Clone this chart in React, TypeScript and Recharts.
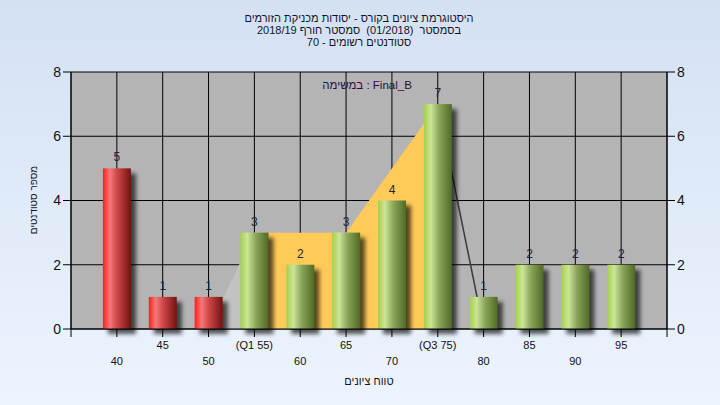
import React from 'react';
import { ComposedChart, Bar, Area, XAxis, YAxis, CartesianGrid, LabelList } from 'recharts';

// ---- data ----
const scores = [40, 45, 50, 55, 60, 65, 70, 75, 80, 85, 90, 95];
const counts = [5, 1, 1, 3, 2, 3, 4, 7, 1, 2, 2, 2];
const tickLabels = ['40', '45', '50', '(Q1 55)', '60', '65', '70', '(Q3 75)', '80', '85', '90', '95'];
const barGroups = ['below', 'below', 'below', 'pass', 'pass', 'pass', 'pass', 'pass', 'pass', 'pass', 'pass', 'pass'];
const lowerTailArea: (number | null)[] = [null, null, 0, 3, null, null, null, null, null, null, null, null];
const interQuartileArea: (number | null)[] = [null, null, null, 3, null, 3, null, 7, null, null, null, null];
const upperTailLine: (number | null)[] = [null, null, null, null, null, null, null, 7, 0, null, null, null];
const xTicks = [35, 40, 45, 50, 55, 60, 65, 70, 75, 80, 85, 90, 95, 100];
const yTicks = [0, 2, 4, 6, 8];

const titleLines = [
  'היסטוגרמת ציונים בקורס - יסודות מכניקת הזורמים',
  'בסמסטר  (01/2018)  סמסטר חורף 2018/19',
  'סטודנטים רשומים - 70',
];
const legendText = 'במשימה : Final_B';
const xAxisTitle = 'טווח ציונים';
const yAxisTitle = 'מספר סטודנטים';

const data = scores.map((s, i) => ({
  score: s,
  count: counts[i],
  group: barGroups[i],
  lowerTail: lowerTailArea[i],
  iqr: interQuartileArea[i],
  upperTail: upperTailLine[i],
}));

const CylBar = (props: any) => {
  const { x, y, width, height, payload } = props;
  if (!height || height <= 0) return null;
  const grad = payload.group === 'below' ? 'url(#gradRed)' : 'url(#gradGreen)';
  return (
    <g>
      <rect x={x + 5} y={y + 5} width={width} height={height} fill="#000" opacity={0.65} filter="url(#barShadow)" />
      <rect x={x} y={y} width={width} height={height} fill={grad} />
    </g>
  );
};

const XTick = (props: any) => {
  const { x, y, payload } = props;
  const i = scores.indexOf(payload.value);
  if (i < 0) return null;
  const upper = i % 2 === 1;
  return (
    <text x={x} y={y + (upper ? 10 : 26)} textAnchor="middle" fontSize={11} fill="#111">
      {tickLabels[i]}
    </text>
  );
};

export default function App() {
  return (
    <div
      style={{
        position: 'absolute',
        left: 0,
        top: 0,
        width: 720,
        height: 405,
        overflow: 'hidden',
        background: 'linear-gradient(to bottom, #d4e1f3, #ecf4fe)',
        fontFamily: '"Liberation Sans", Arial, sans-serif',
      }}
    >
      <ComposedChart width={720} height={405} data={data} margin={{ top: 72, right: 0, bottom: 0, left: 0 }}>
        <defs>
          <linearGradient id="gradRed" x1="0" y1="0" x2="1" y2="0">
            <stop offset="0%" stopColor="#ff1c1c" />
            <stop offset="25%" stopColor="#f47a7a" />
            <stop offset="50%" stopColor="#d04848" />
            <stop offset="100%" stopColor="#741212" />
          </linearGradient>
          <linearGradient id="gradGreen" x1="0" y1="0" x2="1" y2="0">
            <stop offset="0%" stopColor="#a4d04c" />
            <stop offset="25%" stopColor="#cce596" />
            <stop offset="55%" stopColor="#8aa45a" />
            <stop offset="100%" stopColor="#4f6a24" />
          </linearGradient>
          <filter id="barShadow" x="-50%" y="-20%" width="200%" height="140%">
            <feGaussianBlur stdDeviation="2.2" />
          </filter>
        </defs>
        <CartesianGrid stroke="#000" strokeWidth={1} fill="#b4b4b4" fillOpacity={1} />
        <XAxis
          dataKey="score"
          type="number"
          domain={[35, 100]}
          ticks={xTicks}
          interval={0}
          height={76}
          tickSize={8}
          axisLine={{ stroke: '#000' }}
          tickLine={{ stroke: '#000' }}
          tick={<XTick />}
        />
        <YAxis
          yAxisId={0}
          domain={[0, 8]}
          ticks={yTicks}
          width={71}
          tickSize={8}
          axisLine={{ stroke: '#000' }}
          tickLine={{ stroke: '#000' }}
          tick={{ fontSize: 14, fill: '#111' }}
        />
        <YAxis
          yAxisId="right"
          orientation="right"
          domain={[0, 8]}
          ticks={yTicks}
          width={53}
          tickSize={8}
          axisLine={{ stroke: '#000' }}
          tickLine={{ stroke: '#000' }}
          tick={{ fontSize: 14, fill: '#111' }}
        />
        <Area
          dataKey="lowerTail"
          type="linear"
          stroke="none"
          fill="#c2c2c2"
          fillOpacity={1}
          isAnimationActive={false}
          dot={false}
          activeDot={false}
        />
        <Area
          dataKey="iqr"
          type="linear"
          connectNulls
          stroke="none"
          fill="#ffca58"
          fillOpacity={1}
          isAnimationActive={false}
          dot={false}
          activeDot={false}
        />
        <Area
          yAxisId="right"
          dataKey="upperTail"
          type="linear"
          stroke="#3a3a3a"
          strokeWidth={1.5}
          fill="none"
          isAnimationActive={false}
          dot={false}
          activeDot={false}
        />
        <Bar dataKey="count" barSize={28} shape={<CylBar />} isAnimationActive={false}>
          <LabelList dataKey="count" position="top" offset={7} fill="#1c2540" fontSize={12} />
        </Bar>
      </ComposedChart>

      <svg width={720} height={405} style={{ position: 'absolute', left: 0, top: 0, pointerEvents: 'none' }}>
        {titleLines.map((t, i) => (
          <text
            key={i}
            x={359}
            y={22 + i * 12}
            textAnchor="middle"
            direction="rtl"
            fontSize={11}
            fill="#141428"
            style={{ whiteSpace: 'pre' }}
          >
            {t}
          </text>
        ))}
        <text x={367} y={89} textAnchor="middle" fontSize={11.5} fill="#2a1040">
          {legendText}
        </text>
        <text x={369} y={385} textAnchor="middle" direction="rtl" fontSize={11} fill="#1a1020">
          {xAxisTitle}
        </text>
        <text x={37} y={200} textAnchor="middle" fontSize={10} fill="#1a1020" transform="rotate(-90 37 200)">
          {yAxisTitle}
        </text>
      </svg>
    </div>
  );
}
